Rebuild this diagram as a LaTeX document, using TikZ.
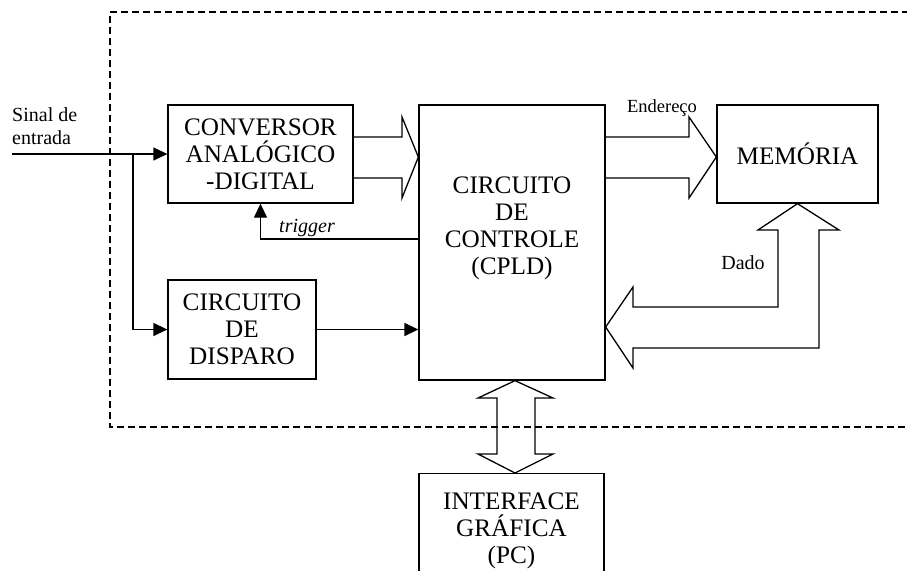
\documentclass[tikz,border=0pt]{standalone}
\usepackage{fontspec}
\setmainfont{Liberation Serif}
\usetikzlibrary{arrows.meta,calc}
\tikzset{
  blk/.style={draw,line width=1.3pt,align=center,inner sep=0pt,font=\fontsize{25.2}{27}\selectfont},
  sig/.style={line width=1.3pt,-{Triangle[length=14pt,width=13pt]}},
  bus/.style={draw,line width=1.3pt,line join=miter},
  lbl/.style={inner sep=0pt,font=\fontsize{20}{23}\selectfont},
  frame/.style={line width=1.8pt,dash pattern=on 7pt off 4pt}
}

\begin{document}
\begin{tikzpicture}[x=1pt,y=-1pt]
\useasboundingbox (0,0) rectangle (907,570);
\clip (0,0) rectangle (907,570);
% placa de aquisicao
\draw[frame] (920,12) -- (110,12) -- (110,427) -- (920,427);

% blocos
\node[blk,minimum width=185,minimum height=98] (adc) at (260.5,154) {CONVERSOR\\ANALÓGICO\\-DIGITAL};
\node[blk,minimum width=186,minimum height=275] (cpld) at (512,242.5) {};
\node[align=center,inner sep=0pt,font=\fontsize{25.2}{27}\selectfont] (cpldtxt) at (512,228) {CIRCUITO\\DE\\CONTROLE\\(CPLD)};
\node[blk,minimum width=161,minimum height=98] (mem) at (797.5,154) {MEMÓRIA};
\node[blk,minimum width=148,minimum height=99] (disp) at (242,329.5) {CIRCUITO\\DE\\DISPARO};
\node[blk,minimum width=185,minimum height=114,anchor=north] (pc) at (511.5,473) {INTERFACE\\GRÁFICA\\(PC)};

% sinais
\coordinate (in) at (12,154);
\coordinate (fork) at (133,154);
\draw[sig] (in) -- (adc.west);
\draw[sig] (fork) |- (disp.west);
\draw[sig] (disp.east) -- (cpld.west |- disp.east);
\draw[sig] (cpld.west |- 0,239) -| (adc.south);
\node[lbl,anchor=south west,align=left] (sinal) at (12,145) {Sinal de\\entrada};
\node[lbl,anchor=base,font=\fontsize{20}{23}\selectfont\itshape] (trig) at (307,232) {trigger};

% barramentos
\draw[bus] (adc.east |- 0,137) -- (402,137) -- (402,117) -- (cpld.west |- 0,157)
  -- (402,198) -- (402,178) -- (adc.east |- 0,178);
\draw[bus] (cpld.east |- 0,137) -- (689,137) -- (689,117) -- (mem.west |- 0,157)
  -- (689,198) -- (689,178) -- (cpld.east |- 0,178);
\draw[bus] (mem.south) -- (839,230) -- (819,230) -- (819,348) -- (633,348) -- (633,368)
  -- (cpld.east |- 0,327) -- (633,287) -- (633,307) -- (778,307) -- (778,230) -- (758,230) -- cycle;
\draw[bus] (cpld.south -| 515,0) -- (553,398) -- (535,398) -- (535,454) -- (553,454)
  -- (pc.north -| 515,0) -- (478,454) -- (497,454) -- (497,398) -- (478,398) -- cycle;
\node[lbl,anchor=base,font=\fontsize{18.5}{20}\selectfont] (end) at (662,112) {Endereço};
\node[lbl,anchor=base] (dado) at (743,269) {Dado};
\end{tikzpicture}
\end{document}
